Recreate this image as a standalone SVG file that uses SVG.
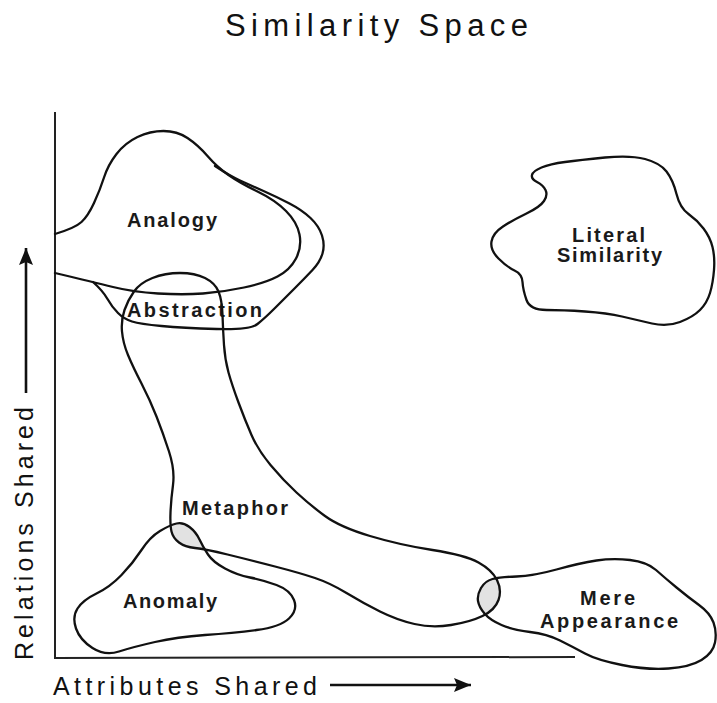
<svg xmlns="http://www.w3.org/2000/svg" width="717" height="703" viewBox="0 0 717 703">
<style>
.blob{fill:none;stroke:#111;stroke-width:2.3;stroke-linejoin:round;stroke-linecap:round}
.axis{fill:none;stroke:#222;stroke-width:2}
.lbl{font-family:"Liberation Sans",Arial,sans-serif;font-size:20px;font-weight:bold;fill:#1a1a1a}
.ax{font-family:"Liberation Sans",Arial,sans-serif;font-size:25px;fill:#111}
.title{font-family:"Liberation Sans",Arial,sans-serif;font-size:31px;fill:#111}
.ovl{fill:#e2e2e2;stroke:none}
</style>
<defs>
<clipPath id="clipMetaphor"><path d="M124.5,310 Q128,300 134,291.5 Q140,283 152.5,278 Q165,273 180,273 Q195,273 205,278 Q215,283 218.5,291.5 Q222,300 222.5,315 Q223,330 224,345 Q225,360 228.5,372.5 Q232,385 238.5,402.5 Q245,420 251.5,435 Q258,450 270.5,465 Q283,480 296.5,492.5 Q310,505 325,516 Q340,527 370,536 Q400,545 432.5,550 Q465,555 478.5,562.5 Q492,570 497,580 Q502,590 498.5,600 Q495,610 482.5,616 Q470,622 451,625 Q432,628 414.5,624 Q397,620 380,611.5 Q363,603 346.5,593 Q330,583 315,578 Q300,573 275,566.5 Q250,560 227.5,554.5 Q205,549 195,548 Q185,547 179,542.5 Q173,538 171.5,531.5 Q170,525 170.5,512.5 Q171,500 173,485 Q175,470 169,451.5 Q163,433 156.5,416.5 Q150,400 141.5,383.5 Q133,367 128,355 Q123,343 122,331.5 Q121,320 124.5,310 Z"/></clipPath>
<marker id="arrow" viewBox="0 0 17 14" refX="17" refY="7" markerWidth="17" markerHeight="14" markerUnits="userSpaceOnUse" orient="auto"><path d="M0,0 L17,7 L0,14 L3,7 Z" fill="#111"/></marker>
</defs>
<rect width="717" height="703" fill="#fff"/>

<text class="title" x="225" y="36" textLength="303" lengthAdjust="spacing">Similarity Space</text>

<g id="overlaps">
<path class="ovl" clip-path="url(#clipMetaphor)" d="M160,531 Q170,525 176.5,523.5 Q183,522 189.5,527 Q196,532 199.5,539.5 Q203,547 208,554.5 Q213,562 225,568.5 Q237,575 250,577.5 Q263,580 276.5,585 Q290,590 294,600 Q298,610 289,618.5 Q280,627 256.5,630 Q233,633 205,635 Q177,637 155,642 Q133,647 119,651.5 Q105,656 92.5,648 Q80,640 76,628.5 Q72,617 77.5,608.5 Q83,600 96.5,593.5 Q110,587 121.5,575 Q133,563 141.5,550 Q150,537 160,531 Z"/>
<path class="ovl" clip-path="url(#clipMetaphor)" d="M478,601 Q477,595 481,588 Q485,581 492.5,579 Q500,577 516.5,576.5 Q533,576 556.5,569.5 Q580,563 596.5,560.5 Q613,558 630,560 Q647,562 656,570 Q665,578 676.5,587.5 Q688,597 699,605 Q710,613 713.5,622.5 Q717,632 715,642.5 Q713,653 701.5,660 Q690,667 668.5,668.5 Q647,670 622,665 Q597,660 585,653.5 Q573,647 560,640.5 Q547,634 530,632 Q513,630 501.5,625 Q490,620 484.5,613.5 Q479,607 478,601 Z"/>
</g>

<g id="axes">
<line class="axis" x1="55" y1="112" x2="55" y2="658"/>
<line class="axis" x1="54" y1="658" x2="575" y2="657"/>
</g>

<g id="connectors">
<line x1="26" y1="393" x2="26" y2="248" stroke="#111" stroke-width="2.6" marker-end="url(#arrow)"/>
<line x1="330" y1="685" x2="471" y2="685" stroke="#111" stroke-width="2.6" marker-end="url(#arrow)"/>
</g>

<g id="analogy">
<path class="blob" d="M55,234 Q75,228 81.5,222 Q88,216 94,203 Q100,190 104,177.5 Q108,165 116.5,154 Q125,143 137.5,137 Q150,131 163.5,131 Q177,131 187.5,138 Q198,145 207.5,156 Q217,167 228.5,175 Q240,183 257.5,191.5 Q275,200 286,211 Q297,222 299.5,234.5 Q302,247 296,258.5 Q290,270 277.5,276.5 Q265,283 244,287.5 Q223,292 203,293.5 Q183,295 158,293.5 Q133,292 113,287 Q93,282 55,273"/>
<text class="lbl" x="127" y="227" textLength="90" lengthAdjust="spacing">Analogy</text>
</g>

<g id="abstraction">
<path class="blob" d="M93,282 Q103,291 107.5,299 Q112,307 118,313 Q124,319 132,321.5 Q140,324 161.5,326 Q183,328 216.5,329 Q250,330 257.5,324 Q265,318 275,308 Q285,298 295,288 Q305,278 312.5,270 Q320,262 322.5,253.5 Q325,245 322,235.5 Q319,226 310.5,218 Q302,210 289.5,203.5 Q277,197 263.5,191 Q250,185 240,180.5 Q230,176 215,166"/>
<text class="lbl" x="127" y="317" textLength="135" lengthAdjust="spacing">Abstraction</text>
</g>

<g id="literal-similarity">
<path class="blob" d="M532,175 Q533,171 541.5,167.5 Q550,164 565,162 Q580,160 605,157.5 Q630,155 645,159 Q660,163 666.5,171.5 Q673,180 676.5,194 Q680,208 688.5,214 Q697,220 703.5,228.5 Q710,237 712.5,247 Q715,257 714,270 Q713,283 710,293 Q707,303 700,310 Q693,317 680,322 Q667,327 652,323.5 Q637,320 622,316.5 Q607,313 585,311.5 Q563,310 546.5,310 Q530,310 526.5,300 Q523,290 522.5,282 Q522,274 514.5,270.5 Q507,267 498.5,258.5 Q490,250 491.5,241.5 Q493,233 503,226.5 Q513,220 526.5,213.5 Q540,207 544,201 Q548,195 545.5,190 Q543,185 537,182 Q531,179 532,175 Z"/>
<text class="lbl" x="572" y="242" textLength="73" lengthAdjust="spacing">Literal</text>
<text class="lbl" x="557" y="262" textLength="105" lengthAdjust="spacing">Similarity</text>
</g>

<g id="metaphor">
<path class="blob" d="M124.5,310 Q128,300 134,291.5 Q140,283 152.5,278 Q165,273 180,273 Q195,273 205,278 Q215,283 218.5,291.5 Q222,300 222.5,315 Q223,330 224,345 Q225,360 228.5,372.5 Q232,385 238.5,402.5 Q245,420 251.5,435 Q258,450 270.5,465 Q283,480 296.5,492.5 Q310,505 325,516 Q340,527 370,536 Q400,545 432.5,550 Q465,555 478.5,562.5 Q492,570 497,580 Q502,590 498.5,600 Q495,610 482.5,616 Q470,622 451,625 Q432,628 414.5,624 Q397,620 380,611.5 Q363,603 346.5,593 Q330,583 315,578 Q300,573 275,566.5 Q250,560 227.5,554.5 Q205,549 195,548 Q185,547 179,542.5 Q173,538 171.5,531.5 Q170,525 170.5,512.5 Q171,500 173,485 Q175,470 169,451.5 Q163,433 156.5,416.5 Q150,400 141.5,383.5 Q133,367 128,355 Q123,343 122,331.5 Q121,320 124.5,310 Z"/>
<text class="lbl" x="182" y="515" textLength="106" lengthAdjust="spacing">Metaphor</text>
</g>

<g id="anomaly">
<path class="blob" d="M160,531 Q170,525 176.5,523.5 Q183,522 189.5,527 Q196,532 199.5,539.5 Q203,547 208,554.5 Q213,562 225,568.5 Q237,575 250,577.5 Q263,580 276.5,585 Q290,590 294,600 Q298,610 289,618.5 Q280,627 256.5,630 Q233,633 205,635 Q177,637 155,642 Q133,647 119,651.5 Q105,656 92.5,648 Q80,640 76,628.5 Q72,617 77.5,608.5 Q83,600 96.5,593.5 Q110,587 121.5,575 Q133,563 141.5,550 Q150,537 160,531 Z"/>
<text class="lbl" x="123" y="608" textLength="94" lengthAdjust="spacing">Anomaly</text>
</g>

<g id="mere-appearance">
<path class="blob" d="M478,601 Q477,595 481,588 Q485,581 492.5,579 Q500,577 516.5,576.5 Q533,576 556.5,569.5 Q580,563 596.5,560.5 Q613,558 630,560 Q647,562 656,570 Q665,578 676.5,587.5 Q688,597 699,605 Q710,613 713.5,622.5 Q717,632 715,642.5 Q713,653 701.5,660 Q690,667 668.5,668.5 Q647,670 622,665 Q597,660 585,653.5 Q573,647 560,640.5 Q547,634 530,632 Q513,630 501.5,625 Q490,620 484.5,613.5 Q479,607 478,601 Z"/>
<text class="lbl" x="580" y="605" textLength="55" lengthAdjust="spacing">Mere</text>
<text class="lbl" x="540" y="628" textLength="138" lengthAdjust="spacing">Appearance</text>
</g>

<g id="axis-labels">
<text class="ax" x="53" y="695" textLength="264" lengthAdjust="spacing">Attributes Shared</text>
<text class="ax" transform="translate(33,660) rotate(-90)" x="0" y="0" textLength="253" lengthAdjust="spacing">Relations Shared</text>
</g>
</svg>
